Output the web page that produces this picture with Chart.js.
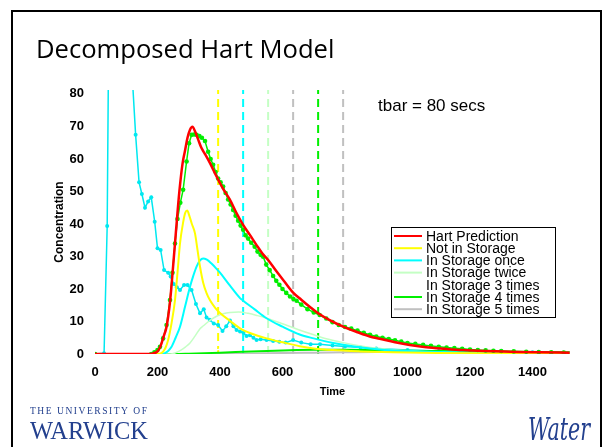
<!DOCTYPE html>
<html>
<head>
<meta charset="utf-8">
<script src="https://cdn.jsdelivr.net/npm/chart.js@4.4.1/dist/chart.umd.min.js"></script>
<style>
html,body{margin:0;padding:0;background:#fff;}
#c{display:block;}
</style>
</head>
<body>
<canvas id="c" width="604" height="447"></canvas>
<script>
// ---------- data ----------
const xTicks = [0, 200, 400, 600, 800, 1000, 1200, 1400];
const yTicks = [0, 10, 20, 30, 40, 50, 60, 70, 80];

// Hart prediction (red)
const hartT = [0,180,190,200,210,220,229,240,250,261,270,280,288,296,304,312,320,330,340,352,368,389,410,432,452,474,495,517,535,554,580,606,634,660,690,719,751,794,840,879,911,960,1007,1060,1120,1176,1250,1330,1420,1519];
const hartV = [0,0,0.3,0.8,2.5,5.5,8.4,16,27,40,50,58.5,62.5,66.5,69,69.9,68.5,66,63.5,61.5,58.7,54.6,50.8,47.4,43.5,39.7,36.7,33.5,31,28.9,25.5,22.3,18.9,16.7,14.3,12.2,10.4,8.4,6.7,5.4,4.7,3.6,2.8,2.1,1.6,1.2,0.9,0.7,0.5,0.4];

// Not in storage (yellow)
const notT = [0,190,210,218,226,234,245,256,264,272,282,289,295,302,310,320,328,336,346,357,368,384,400,432,464,500,549,600,655,700,762,850,950,1100,1300,1519];
const notV = [0,0,0.2,0.7,2,4.3,9.5,16.6,25,34,40.5,43.5,44.1,42.5,40,37.1,32,26.9,22,18.7,16.5,14.3,12.6,10.2,7.9,6.3,4.8,3.6,2.4,1.7,1.2,0.8,0.5,0.3,0.2,0.1];

// In storage once (cyan, smooth)
const onceT = [0,215,224,235,245,258,272,288,304,315,325,336,346,358,372,389,400,432,464,474,510,549,600,655,700,762,830,911,1000,1100,1250,1519];
const onceV = [0,0,0.3,1,2.2,5,8.4,14.5,20.7,24.2,26.9,28.8,29.4,29,27.9,26.2,25,21,17.2,16.4,13.8,11,8.4,6,4.8,3.4,2.3,1.4,0.9,0.6,0.4,0.2];

// In storage twice (light green)
const twiceT = [0,240,256,275,290,304,320,336,346,370,389,410,432,460,490,520,549,600,645,700,740,794,850,911,1000,1100,1250,1519];
const twiceV = [0,0,0.3,1.2,2.2,3.4,5.5,7.8,8.6,10.5,11.6,12.4,12.8,12.9,12.5,11.8,11,9.3,7.7,5.9,4.7,3.5,2.5,1.7,1,0.6,0.35,0.15];

// In storage 3 times (white)
const threeT = [0,300,350,400,450,500,550,600,650,700,800,900,1000,1200,1519];
const threeV = [0,0,0.5,1.5,2.8,3.8,4.4,4.6,4.5,4.2,3.4,2.4,1.6,0.7,0.2];

// In storage 4 times (green)
const fourT = [0,250,300,400,500,600,700,800,900,1000,1100,1200,1300,1400,1519];
const fourV = [0,0,0.1,0.4,0.8,1.1,1.3,1.3,1.2,1,0.9,0.8,0.7,0.6,0.5];

// In storage 5 times (grey)
const fiveT = [0,400,500,600,700,800,900,1000,1100,1200,1300,1400,1519];
const fiveV = [0,0,0.1,0.3,0.4,0.5,0.6,0.6,0.6,0.6,0.55,0.5,0.5];

// measured downstream (green dots)
const measDownT = [0,180,190,200,208,218,229,240,248,256,264,273,282,293,301,309,317,325,334,342,352,362,370,378,386,394,402,410,418,426,434,442,450,458,466,474,482,490,500,511,520,530,538,548,559,570,580,590,600,612,624,635,645,660,680,700,719,740,760,780,800,820,840,860,880,900,920,940,960,980,1000,1025,1050,1075,1100,1125,1150,1175,1200,1225,1250,1275,1300,1340,1380,1420,1460,1500];
const measDownV = [0,0,0.5,1.2,2.2,4.8,8.9,16.6,25,34,41.5,46.5,50.5,59.2,64.8,67.4,67.5,67.4,67,66.5,65.5,62.2,60,58.2,56,54,52.8,51.5,49.5,47.5,46,44.3,42.5,41,39.5,38.2,36.5,35.5,34.2,33,31.5,30.5,29.9,27.5,25.8,24,22.5,21.3,20,18.8,17.7,16.9,16.4,15.2,13.8,12.8,12,10.9,9.8,8.9,8.3,7.8,7.2,6.5,5.9,5.4,5,4.6,4.2,3.8,3.4,3.1,2.8,2.5,2.2,2,1.8,1.6,1.4,1.25,1.1,1,0.9,0.8,0.7,0.6,0.5,0.45];

// measured upstream (cyan dots)
const measUpT = [0,29,39,50,60,70,80,90,100,110,120,130,141,150,160,170,180,191,200,210,221,234,242,252,262,272,285,296,309,323,336,348,357,367,380,394,408,420,432,443,453,464,475,485,496,507,517,530,549,570,590,610,634,660,690,720,760,800,850,900,1000,1100,1200,1300,1400,1500];
const measUpV = [0,0.2,39.4,175,200,190,165,140,120,100,84,67.4,52.8,49.2,45,46.9,48.2,40.7,32.5,32,25.8,25,23.8,21.5,20.5,19.7,21.2,21.2,19.7,15.4,12.5,13.8,11.2,10.5,9.4,8.9,7.1,8.5,10.3,8.5,7.4,6.9,6.5,5.5,5.8,5,4.3,4.5,4.3,4,3.8,3.5,4.3,3.5,3,3,2.6,2.3,2,1.7,1.2,0.9,0.7,0.5,0.5,0.4];

// tbar markers (dashed verticals), tbar = 80 s
const tbarTimes = [394, 474, 554, 634, 714, 794];
const tbarColors = ['#ffff00', '#00ffff', '#c4ffc4', '#c0c0c0', '#00f000', '#c0c0c0'];

const legendLabels = ['Hart Prediction','Not in Storage','In Storage once','In Storage twice','In Storage 3 times','In Storage 4 times','In Storage 5 times'];

// ---------- build datasets ----------
const pts = (t, v) => t.map((x, i) => ({x: x, y: v[i]}));
const Y_TOP = 81.2;

function curve(label, t, v, color, width, order) {
  return {label, data: pts(t, v), borderColor: color, backgroundColor: color,
    borderWidth: width, pointRadius: 0, showLine: true,
    cubicInterpolationMode: 'monotone', order, inLegend: true};
}
const datasets = [
  curve(legendLabels[0], hartT, hartV, '#ff0000', 2.5, 0),
  curve(legendLabels[1], notT, notV, '#ffff00', 2, 3),
  curve(legendLabels[2], onceT, onceV, '#00ffff', 2, 4),
  curve(legendLabels[3], twiceT, twiceV, '#c4ffc4', 1.5, 5),
  curve(legendLabels[4], threeT, threeV, '#ffffff', 1.5, 9),
  curve(legendLabels[5], fourT, fourV, '#00f000', 2, 6),
  curve(legendLabels[6], fiveT, fiveV, '#c0c0c0', 2, 7),
  {label: 'Measured downstream', data: pts(measDownT, measDownV), borderColor: '#00ee00',
    backgroundColor: '#00ee00', borderWidth: 1.5, pointRadius: 2.3, pointBorderWidth: 0,
    showLine: true, order: 1, inLegend: false},
  {label: 'Measured upstream', data: pts(measUpT, measUpV), borderColor: '#00e8f0',
    backgroundColor: '#00e8f0', borderWidth: 1.5, pointRadius: 2, pointBorderWidth: 0,
    showLine: true, order: 8, inLegend: false}
];
tbarTimes.forEach((t, i) => {
  datasets.push({label: 'tbar ' + (i + 1), data: [{x: t, y: 0}, {x: t, y: Y_TOP}],
    borderColor: tbarColors[i], borderWidth: 2, borderDash: [8, 5], pointRadius: 0,
    showLine: true, order: 20, inLegend: false});
});

// ---------- decorations plugin ----------
const deco = {
  id: 'deco',
  beforeDraw(chart) {
    const ctx = chart.ctx;
    ctx.save();
    ctx.fillStyle = '#fff';
    ctx.fillRect(0, 0, chart.width, chart.height);
    ctx.strokeStyle = '#000';
    ctx.lineWidth = 2;
    ctx.beginPath();
    ctx.moveTo(12, 460); ctx.lineTo(12, 11); ctx.lineTo(601, 11); ctx.lineTo(601, 460);
    ctx.stroke();
    // title fitted to width
    const title = 'Decomposed Hart Model';
    ctx.font = '28px "Open Sans"';
    const w = ctx.measureText(title).width;
    const size = 28 * 299 / w;
    ctx.font = size.toFixed(1) + 'px "Open Sans"';
    ctx.fillStyle = '#000';
    ctx.textBaseline = 'alphabetic';
    ctx.textAlign = 'left';
    ctx.fillText(title, 36, 58);
    // logos
    ctx.fillStyle = '#23408e';
    ctx.font = '9.5px "Liberation Serif"';
    const uni = 'THE UNIVERSITY OF';
    let x = 30;
    const gap = (117 - ctx.measureText(uni).width) / (uni.length - 1);
    for (const ch of uni) { ctx.fillText(ch, x, 414); x += ctx.measureText(ch).width + gap; }
    ctx.font = '25px "Liberation Serif"';
    const ww = ctx.measureText('WARWICK').width;
    ctx.save();
    ctx.translate(30, 439);
    ctx.scale(118 / ww, 1);
    ctx.fillText('WARWICK', 0, 0);
    ctx.restore();
    ctx.font = 'italic 32px "DejaVu Serif"';
    const wt = ctx.measureText('Water').width;
    ctx.save();
    ctx.translate(528, 440);
    ctx.scale(62 / wt, 1);
    ctx.fillText('Water', 0, 0);
    ctx.restore();
    ctx.restore();
  },
  afterDraw(chart) {
    const ctx = chart.ctx;
    ctx.save();
    ctx.fillStyle = '#000';
    ctx.font = '17px "Liberation Sans"';
    ctx.textBaseline = 'middle';
    ctx.textAlign = 'left';
    ctx.fillText('tbar = 80 secs', 378, 106);
    // legend box
    const bx = 391, by = 227, bw = 164, bh = 90;
    ctx.fillStyle = '#fff';
    ctx.fillRect(bx, by, bw, bh);
    ctx.strokeStyle = '#000';
    ctx.lineWidth = 1;
    ctx.strokeRect(bx + 0.5, by + 0.5, bw, bh);
    ctx.font = '14px "Liberation Sans"';
    const items = chart.data.datasets.filter(d => d.inLegend);
    items.forEach((d, i) => {
      const cy = 236 + i * 12.2;
      ctx.strokeStyle = d.borderColor;
      ctx.lineWidth = 2;
      ctx.beginPath();
      ctx.moveTo(394, cy); ctx.lineTo(422, cy);
      ctx.stroke();
      ctx.fillStyle = '#000';
      ctx.fillText(d.label, 426, cy + 1);
    });
    ctx.restore();
  }
};

const tickFont = {family: '"Liberation Sans"', size: 13, weight: 'bold'};

new Chart(document.getElementById('c'), {
  type: 'scatter',
  data: {datasets},
  options: {
    responsive: false,
    animation: false,
    devicePixelRatio: 1,
    layout: {padding: {left: 52, right: 34, top: 90, bottom: 48}},
    plugins: {legend: {display: false}, tooltip: {enabled: false}},
    scales: {
      x: {
        type: 'linear', min: 0, max: 1520,
        afterBuildTicks: (s) => { s.ticks = xTicks.map(v => ({value: v})); },
        afterFit: (s) => { s.height = 45; },
        grid: {display: false, drawTicks: false},
        border: {display: false},
        ticks: {color: '#000', padding: 11, font: tickFont, callback: (v) => String(v)},
        title: {display: true, text: 'Time', color: '#000', padding: {top: 0, bottom: 0},
          font: {family: '"Liberation Sans"', size: 11, weight: 'bold'}}
      },
      y: {
        type: 'linear', min: 0, max: Y_TOP,
        afterBuildTicks: (s) => { s.ticks = yTicks.map(v => ({value: v})); },
        afterFit: (s) => { s.width = 43; },
        grid: {display: false, drawTicks: false},
        border: {display: false},
        ticks: {color: '#000', padding: 11, font: tickFont, callback: (v) => String(v)},
        title: {display: true, text: 'Concentration', color: '#000', padding: {top: 0, bottom: 0},
          font: {family: '"Liberation Sans"', size: 12, weight: 'bold'}}
      }
    }
  },
  plugins: [deco]
});
</script>
</body>
</html>
